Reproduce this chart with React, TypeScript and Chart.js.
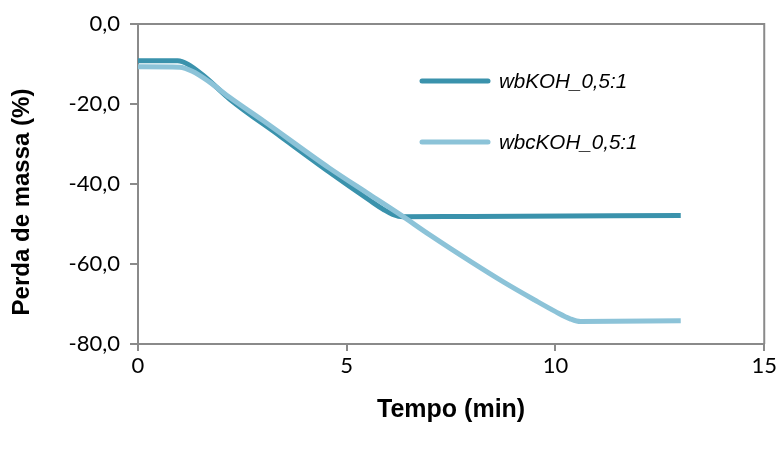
import React, { useEffect, useRef } from "react";
import { Chart, registerables } from "chart.js";

Chart.register(...registerables);

// Data
const timeDark = [0, 0.95, 1.2, 1.6, 2.2, 3.4, 4.58, 5.54, 5.9, 6.1, 6.35, 8, 13];
const massDark = [-9.2, -9.2, -10.1, -13.2, -18.8, -28.0, -37.0, -44.0, -46.5, -47.6, -48.2, -48.1, -47.9];

const timeLight = [0, 1.0, 1.3, 1.7, 2.2, 3.0, 4.58, 5.54, 6.3, 6.97, 8.0, 8.77, 9.5, 10.0, 10.35, 10.6, 13];
const massLight = [-10.7, -10.8, -11.8, -14.4, -18.4, -24.2, -36.0, -42.6, -47.8, -52.6, -59.6, -64.6, -69.0, -71.9, -73.7, -74.4, -74.2];

const seriesLabels = ["wbKOH_0,5:1", "wbcKOH_0,5:1"];
const xAxisTitle = "Tempo (min)";
const yAxisTitle = "Perda de massa (%)";
const xMin = 0, xMax = 15, xStep = 5;
const yMin = -80, yMax = 0, yStep = 20;

const darkColor = "#3A92AC";
const lightColor = "#8CC3D8";
const axisColor = "#8a8a8a";

export default function App() {
  const ref = useRef<HTMLCanvasElement | null>(null);

  useEffect(() => {
    if (!ref.current) return;
    const frame = {
      id: "frame",
      beforeDatasetsDraw(chart: any) {
        const { ctx, chartArea: a } = chart;
        ctx.save();
        ctx.strokeStyle = axisColor;
        ctx.lineWidth = 2;
        ctx.beginPath();
        ctx.moveTo(a.left, a.top);
        ctx.lineTo(a.right, a.top);
        ctx.lineTo(a.right, a.bottom);
        ctx.stroke();
        ctx.restore();
      },
    };
    const titles = {
      id: "axisTitles",
      afterDraw(chart: any) {
        const { ctx, chartArea: a } = chart;
        ctx.save();
        ctx.fillStyle = "#000";
        ctx.textAlign = "center";
        ctx.textBaseline = "middle";
        ctx.font = "bold 25px 'Liberation Sans', Arial, sans-serif";
        ctx.fillText(xAxisTitle, (a.left + a.right) / 2, 410);
        ctx.translate(22, 202);
        ctx.rotate(-Math.PI / 2);
        ctx.font = "bold 24px 'Liberation Sans', Arial, sans-serif";
        ctx.fillText(yAxisTitle, 0, 0);
        ctx.restore();
      },
    };
    const legend = {
      id: "customLegend",
      afterDraw(chart: any) {
        const { ctx } = chart;
        const items = chart.data.datasets;
        const rows = [81, 142];
        ctx.save();
        items.forEach((ds: any, i: number) => {
          const y = rows[i];
          ctx.strokeStyle = ds.borderColor;
          ctx.lineWidth = 5;
          ctx.lineCap = "round";
          ctx.beginPath();
          ctx.moveTo(422, y);
          ctx.lineTo(488, y);
          ctx.stroke();
          ctx.fillStyle = "#000";
          ctx.font = "italic 20.6px 'Liberation Sans', Arial, sans-serif";
          ctx.textBaseline = "middle";
          ctx.textAlign = "left";
          ctx.fillText(ds.label, 499, y + 1);
        });
        ctx.restore();
      },
    };

    const chart = new Chart(ref.current, {
      type: "line",
      data: {
        datasets: [
          {
            label: seriesLabels[0],
            data: timeDark.map((t, i) => ({ x: t, y: massDark[i] })),
            borderColor: darkColor,
            backgroundColor: darkColor,
            borderWidth: 5,
            pointRadius: 0,
            cubicInterpolationMode: "monotone",
            order: 1,
          },
          {
            label: seriesLabels[1],
            data: timeLight.map((t, i) => ({ x: t, y: massLight[i] })),
            borderColor: lightColor,
            backgroundColor: lightColor,
            borderWidth: 5,
            pointRadius: 0,
            cubicInterpolationMode: "monotone",
            order: 0,
          },
        ],
      },
      options: {
        animation: false,
        responsive: false,
        maintainAspectRatio: false,
        layout: { padding: { top: 24, right: 14, left: 0, bottom: 0 } },
        plugins: { legend: { display: false }, tooltip: { enabled: false } },
        scales: {
          x: {
            type: "linear",
            min: xMin,
            max: xMax,
            afterFit: (s: any) => { s.height = 109; },
            ticks: {
              stepSize: xStep,
              color: "#000",
              font: { family: "Lato, 'Liberation Sans', sans-serif", size: 22, lineHeight: 1 },
              padding: 4,
              maxRotation: 0,
            },
            grid: { display: true, drawOnChartArea: false, drawTicks: true, tickLength: 7, color: axisColor, lineWidth: 2 },
            border: { display: true, color: axisColor, width: 2 },
          },
          y: {
            type: "linear",
            min: yMin,
            max: yMax,
            afterFit: (s: any) => { s.width = 138; },
            ticks: {
              stepSize: yStep,
              color: "#000",
              font: { family: "Lato, 'Liberation Sans', sans-serif", size: 22 },
              padding: 10,
              callback: (v: any) => Number(v).toFixed(1).replace(".", ","),
            },
            grid: { display: true, drawOnChartArea: false, drawTicks: true, tickLength: 8, color: axisColor, lineWidth: 2 },
            border: { display: true, color: axisColor, width: 2 },
          },
        },
      },
      plugins: [frame, titles, legend],
    });
    return () => chart.destroy();
  }, []);

  return (
    <div style={{ position: "absolute", left: 0, top: 0, width: 781, height: 453, background: "#fff" }}>
      <canvas ref={ref} width={781} height={453} style={{ display: "block", width: 781, height: 453 }} />
    </div>
  );
}
